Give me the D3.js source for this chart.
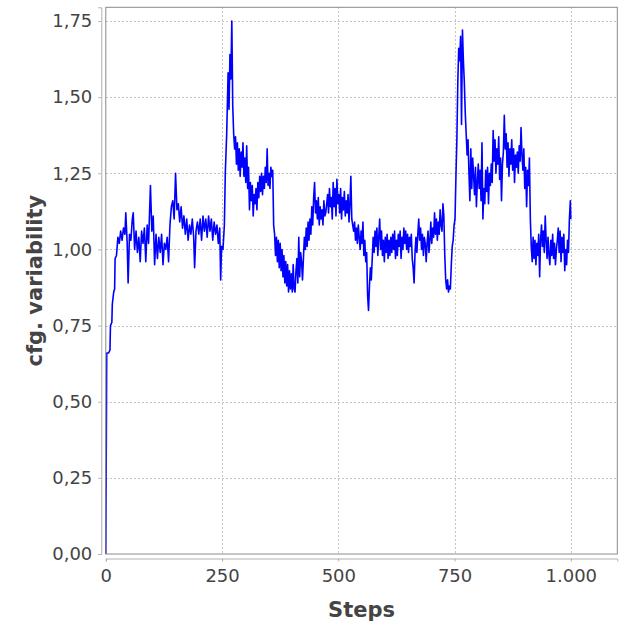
<!DOCTYPE html>
<html><head><meta charset="utf-8">
<script src="https://cdn.jsdelivr.net/npm/d3@7"></script>
<style>
html,body{margin:0;padding:0;background:#fff;}
svg{display:block;}
</style></head>
<body>
<script>
const steps = [0,2,6,9,10,13,14,17,19,20,23,26,29,32,35,38,41,43,46,48,51,54,57,59,62,65,68,71,74,77,80,83,86,89,92,96,99,
102,105,108,111,114,117,120,123,126,129,132,135,138,141,144,147,150,153,156,159,162,165,168,171,174,177,180,183,186,189,191,194,197,
200,203,206,209,212,215,218,221,224,227,230,233,236,239,242,245,247,249,252,255,257,260,263,265,267,269,271,273,275,277,279,281,283,285,287,289,291,293,295,297,299,
301,303,305,307,309,311,313,315,317,319,321,323,325,327,329,331,333,335,337,339,341,343,345,347,349,351,353,355,357,359,361,363,365,367,369,371,373,375,377,379,381,383,385,387,389,391,393,395,397,399,
401,403,405,407,409,411,413,415,417,419,421,423,425,427,429,431,433,435,437,439,441,443,445,447,449,451,453,455,457,459,461,463,465,467,469,471,473,475,477,479,481,483,485,487,489,491,493,495,497,499,
501,503,505,507,509,511,513,515,517,519,521,523,525,527,529,531,533,535,537,539,541,543,545,547,549,551,553,555,557,559,561,563,565,567,569,571,573,575,577,579,581,583,585,587,589,591,593,595,597,599,
601,603,605,607,609,611,613,615,617,619,621,623,625,627,629,631,633,635,637,639,641,643,645,647,649,651,653,655,657,659,661,663,665,667,669,671,673,675,677,679,681,683,685,687,689,691,693,695,697,699,
701,703,705,707,709,711,713,715,717,719,721,723,725,727,729,731,733,735,737,739,741,743,745,747,749,751,753,755,757,759,761,763,765,767,769,771,773,775,777,779,781,783,785,787,789,791,793,795,797,799,
801,803,805,807,809,811,813,815,817,819,821,823,825,827,829,831,833,835,837,839,841,843,845,847,849,851,853,855,857,859,861,863,865,867,869,871,873,875,877,879,881,883,885,887,889,891,893,895,897,899,
901,903,905,907,909,911,913,915,917,919,921,923,925,927,929,931,933,935,937,939,941,943,945,947,949,951,953,955,957,959,961,963,965,967,969,971,973,975,977,979,981,983,985,987,989,991,993,995,997,999,1000];

const variability = [0.00,0.66,0.66,0.67,0.75,0.76,0.82,0.86,0.87,0.97,0.98,1.04,1.02,1.06,1.03,1.07,1.05,1.12,1.02,0.89,1.05,1.03,1.10,1.12,1.00,1.06,0.99,1.04,0.96,1.06,1.02,1.07,0.96,1.08,1.02,1.21,1.06,
1.11,0.95,1.05,0.97,1.04,0.99,1.05,0.95,1.02,1.00,1.04,0.96,1.08,1.14,1.16,1.10,1.25,1.13,1.15,1.09,1.14,1.07,1.11,1.05,1.10,1.03,1.08,1.05,1.10,1.04,0.94,1.06,1.09,
1.05,1.10,1.03,1.11,1.06,1.10,1.04,1.11,1.06,1.10,1.03,1.09,1.05,1.08,1.02,1.07,0.90,1.01,1.00,1.08,1.25,1.38,1.58,1.46,1.64,1.56,1.75,1.47,1.38,1.33,1.37,1.28,1.35,1.26,1.33,1.24,1.32,1.27,1.35,1.24,1.30,
1.22,1.34,1.20,1.27,1.13,1.22,1.16,1.21,1.11,1.18,1.15,1.20,1.13,1.22,1.17,1.24,1.19,1.25,1.18,1.24,1.20,1.27,1.22,1.33,1.21,1.25,1.20,1.27,1.24,1.26,1.08,1.05,0.98,1.04,0.96,1.03,0.94,1.02,0.93,1.00,0.91,0.98,0.89,0.96,0.88,0.95,0.86,0.93,0.87,0.92,
0.86,0.95,0.87,0.86,0.93,0.97,0.89,1.04,0.91,0.99,0.96,0.90,0.97,1.04,1.00,1.07,1.01,1.09,1.03,1.10,1.05,1.14,1.08,1.17,1.22,1.12,1.16,1.10,1.17,1.08,1.14,1.10,1.13,1.08,1.16,1.11,1.12,1.15,1.18,1.12,1.20,1.14,1.17,1.10,1.22,1.14,1.20,1.11,1.23,1.15,
1.18,1.12,1.20,1.10,1.17,1.13,1.19,1.11,1.16,1.12,1.18,1.09,1.15,1.24,1.10,1.08,1.06,1.09,1.03,1.07,1.02,1.08,1.04,1.00,1.06,1.02,1.09,0.98,1.03,0.96,0.99,0.85,0.80,0.88,0.94,0.90,0.97,1.04,0.99,1.06,1.01,1.07,0.98,1.04,1.10,1.00,1.06,0.98,1.03,0.96,
1.04,0.99,1.05,0.97,1.03,0.98,1.04,0.99,1.05,1.00,1.06,0.97,1.03,0.98,1.05,1.01,1.06,0.97,1.04,1.00,1.07,1.02,1.06,1.00,1.05,0.99,1.04,1.01,1.05,0.97,0.94,0.89,0.99,1.04,0.99,1.05,1.10,1.03,1.07,1.00,1.05,0.98,1.04,1.02,0.96,1.02,1.06,0.99,1.03,1.09,
1.02,1.07,1.04,1.12,1.05,1.10,1.03,1.09,1.05,1.13,1.08,1.06,1.15,1.11,0.98,0.90,0.87,0.90,0.86,0.88,0.87,0.95,1.01,1.03,1.08,1.10,1.24,1.36,1.55,1.66,1.62,1.70,1.41,1.72,1.62,1.55,1.45,1.38,1.31,1.36,1.25,1.16,1.33,1.20,1.30,1.24,1.18,1.27,1.14,1.22,
1.28,1.20,1.26,1.16,1.35,1.10,1.20,1.15,1.26,1.19,1.27,1.15,1.25,1.21,1.28,1.22,1.39,1.29,1.36,1.25,1.33,1.28,1.37,1.23,1.30,1.16,1.28,1.32,1.44,1.33,1.38,1.27,1.35,1.24,1.33,1.28,1.36,1.26,1.33,1.22,1.31,1.27,1.32,1.25,1.34,1.29,1.40,1.31,1.26,1.33,
1.20,1.27,1.14,1.26,1.21,1.30,1.10,1.01,0.96,1.04,0.97,1.03,0.95,1.02,0.98,1.05,0.91,1.03,1.08,1.01,1.06,0.99,1.11,1.03,0.97,1.04,0.98,0.95,1.03,0.98,1.05,0.97,1.02,0.95,1.00,1.03,1.07,0.99,1.06,0.96,1.04,0.99,1.05,0.93,1.00,0.95,1.03,0.99,1.10,1.16,1.10];

const xTicks = [0, 250, 500, 750, 1000];
const yTicks = [0, 0.25, 0.5, 0.75, 1.0, 1.25, 1.5, 1.75];
const xTitle = "Steps";
const yTitle = "cfg. variability";

const W = 623, H = 628;
const plot = {left: 105.8, right: 617.3, top: 7.3, bottom: 554};

const svg = d3.select("body").append("svg").attr("width", W).attr("height", H);

const x = d3.scaleLinear().domain([0, 1100]).range([plot.left, plot.right]);
const y = d3.scaleLinear().domain([0, 1.795]).range([plot.bottom, plot.top]);

const fmtY = v => d3.format(".2f")(v).replace(".", ",");
const fmtX = v => d3.format(",")(v).replace(/,/g, ".");

svg.append("rect").attr("x", plot.left).attr("y", plot.top)
  .attr("width", plot.right - plot.left).attr("height", plot.bottom - plot.top)
  .attr("fill", "#fff");

const grid = svg.append("g").attr("stroke", "#c4c4c4").attr("stroke-width", 1).attr("stroke-dasharray", "2,2").attr("shape-rendering", "crispEdges");
grid.selectAll("line.gx").data(xTicks.filter(d => d > 0)).join("line")
  .attr("x1", d => Math.round(x(d)) + 0.5).attr("x2", d => Math.round(x(d)) + 0.5)
  .attr("y1", plot.top).attr("y2", plot.bottom);
grid.selectAll("line.gy").data(yTicks.filter(d => d > 0)).join("line")
  .attr("y1", d => Math.round(y(d)) + 0.5).attr("y2", d => Math.round(y(d)) + 0.5)
  .attr("x1", plot.left).attr("x2", plot.right);

const line = d3.line().x((d, i) => x(steps[i])).y(d => y(d));
svg.append("path").datum(variability)
  .attr("d", line).attr("fill", "none")
  .attr("stroke", "#0000ff").attr("stroke-width", 1.6).attr("stroke-linejoin", "round");

svg.append("rect").attr("x", plot.left).attr("y", plot.top)
  .attr("width", plot.right - plot.left).attr("height", plot.bottom - plot.top)
  .attr("fill", "none").attr("stroke", "#8a8a8a").attr("stroke-width", 1);

const yAxis = d3.axisLeft(y).tickValues(yTicks).tickFormat(fmtY).tickSize(3).tickPadding(6);
const gy = svg.append("g").attr("transform", `translate(${plot.left - 4.5},0)`).call(yAxis);
gy.select(".domain").attr("stroke", "#b0b0b0");
gy.selectAll(".tick line").attr("stroke", "#b0b0b0");
gy.selectAll(".tick text").attr("fill", "#444").attr("font-family", "DejaVu Sans, sans-serif").attr("font-size", 18);

const xAxis = d3.axisBottom(x).tickValues(xTicks).tickFormat(fmtX).tickSize(3).tickPadding(8);
const gx = svg.append("g").attr("transform", `translate(0,${plot.bottom + 4.5})`).call(xAxis);
gx.select(".domain").attr("stroke", "#b0b0b0");
gx.selectAll(".tick line").attr("stroke", "#b0b0b0");
gx.selectAll(".tick text").attr("fill", "#444").attr("font-family", "DejaVu Sans, sans-serif").attr("font-size", 18);

svg.append("text").attr("x", (plot.left + plot.right) / 2).attr("y", 617)
  .attr("text-anchor", "middle").attr("font-family", "DejaVu Sans, sans-serif")
  .attr("font-weight", "bold").attr("font-size", 21).attr("fill", "#444").text(xTitle);
svg.append("text").attr("transform", `translate(42,${(plot.top + plot.bottom) / 2}) rotate(-90)`)
  .attr("text-anchor", "middle").attr("font-family", "DejaVu Sans, sans-serif")
  .attr("font-weight", "bold").attr("font-size", 21).attr("fill", "#444").text(yTitle);
</script>
</body></html>
